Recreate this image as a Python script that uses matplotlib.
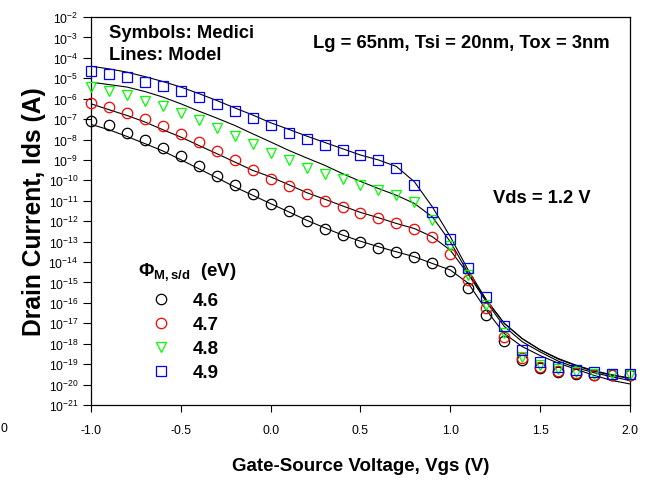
import matplotlib
matplotlib.use("Agg")
import matplotlib.pyplot as plt
import numpy as np
from matplotlib.lines import Line2D
from matplotlib.ticker import LogLocator, LogFormatterSciNotation, FixedLocator, NullLocator

plt.rcParams['font.family'] = ['Liberation Sans', 'DejaVu Sans']
plt.rcParams['mathtext.fontset'] = 'custom'
plt.rcParams['mathtext.rm'] = 'Liberation Sans'
plt.rcParams['mathtext.it'] = 'Liberation Sans:italic'
plt.rcParams['mathtext.bf'] = 'Liberation Sans:bold'

# ---------------- data ----------------
vgs = [-1.0, -0.9, -0.8, -0.7, -0.6, -0.5, -0.4, -0.3, -0.2, -0.1,
       0.0, 0.1, 0.2, 0.3, 0.4, 0.5, 0.6, 0.7, 0.8, 0.9,
       1.0, 1.1, 1.2, 1.3, 1.4, 1.5, 1.6, 1.7, 1.8, 1.9, 2.0]

# Medici symbols, log10(Ids)
medici_46 = [-7.07, -7.31, -7.67, -8.01, -8.40, -8.82, -9.28, -9.77, -10.24, -10.68,
             -11.18, -11.51, -12.00, -12.36, -12.68, -13.04, -13.30, -13.53, -13.77, -14.05,
             -14.42, -15.25, -16.59, -17.89, -18.81, -19.20, -19.36, -19.46, -19.52, -19.55, -19.55]
medici_47 = [-6.22, -6.41, -6.70, -7.00, -7.32, -7.72, -8.14, -8.56, -9.02, -9.47,
             -9.91, -10.30, -10.66, -11.02, -11.32, -11.62, -11.83, -12.11, -12.36, -12.75,
             -13.61, -14.88, -16.23, -17.65, -18.71, -19.15, -19.33, -19.43, -19.52, -19.55, -19.55]
medici_48 = [-5.43, -5.63, -5.84, -6.09, -6.36, -6.69, -7.05, -7.46, -7.85, -8.20,
             -8.64, -9.02, -9.39, -9.70, -9.95, -10.24, -10.45, -10.73, -11.07, -11.92,
             -13.22, -14.64, -16.10, -17.49, -18.67, -19.03, -19.23, -19.36, -19.46, -19.49, -19.52]
medici_49 = [-4.62, -4.78, -4.95, -5.16, -5.39, -5.63, -5.91, -6.26, -6.60, -6.93,
             -7.31, -7.67, -7.96, -8.25, -8.51, -8.76, -9.02, -9.39, -10.22, -11.53,
             -12.89, -14.28, -15.69, -17.11, -18.30, -18.90, -19.16, -19.29, -19.39, -19.46, -19.49]

# Model lines, log10(Ids)
model_46 = [-7.26, -7.52, -7.85, -8.20, -8.56, -8.99, -9.43, -9.87, -10.32, -10.73,
            -11.14, -11.54, -11.95, -12.32, -12.68, -12.98, -13.25, -13.50, -13.74, -14.07,
            -14.39, -15.04, -16.35, -17.50, -18.14, -18.58, -18.95, -19.25, -19.55, -19.80, -19.97]
model_47 = [-6.25, -6.54, -6.82, -7.14, -7.52, -7.88, -8.29, -8.69, -9.10, -9.51,
            -9.83, -10.21, -10.60, -10.92, -11.25, -11.57, -11.83, -12.11, -12.36, -12.76,
            -13.42, -14.60, -15.95, -17.15, -17.90, -18.40, -18.85, -19.17, -19.42, -19.62, -19.80]
model_48 = [-5.19, -5.31, -5.43, -5.65, -5.92, -6.25, -6.61, -6.95, -7.31, -7.72,
            -8.12, -8.53, -8.90, -9.26, -9.67, -10.05, -10.40, -10.73, -11.13, -11.79,
            -13.01, -14.55, -15.85, -17.00, -17.75, -18.30, -18.72, -19.05, -19.32, -19.52, -19.68]
model_49 = [-4.41, -4.54, -4.70, -4.92, -5.16, -5.43, -5.75, -6.09, -6.45, -6.80,
            -7.18, -7.50, -7.83, -8.14, -8.45, -8.76, -9.00, -9.32, -10.07, -11.30,
            -12.76, -14.40, -15.85, -17.00, -17.75, -18.30, -18.75, -19.08, -19.35, -19.55, -19.70]

phi_labels = ['4.6', '4.7', '4.8', '4.9']
colors = ['#000000', '#ff0000', '#00ff00', '#0000ff']
markers = ['o', 'o', 'v', 's']
msizes = [7.5, 7.5, 7.5, 6.8]
x_ticks = [-1.0, -0.5, 0.0, 0.5, 1.0, 1.5, 2.0]

medici = [medici_46, medici_47, medici_48, medici_49]
model = [model_46, model_47, model_48, model_49]

# ---------------- figure ----------------
fig = plt.figure(figsize=(6.49, 4.85), dpi=100)
ax = fig.add_axes([91 / 649, 1 - 406 / 485, (630 - 91) / 649, (406 - 18) / 485])

x = np.array(vgs)
for mdl in model:
    ax.plot(x, 10.0 ** np.array(mdl), color='black', lw=0.8, zorder=2)
for med, c, m, ms in zip(medici, colors, markers, msizes):
    ax.plot(x, 10.0 ** np.array(med), linestyle='none', marker=m, ms=ms,
            mfc='none', mec=c, mew=0.9, zorder=3, clip_on=False)

ax.set_yscale('log')
ax.set_xlim(-1.0, 2.0)
ax.set_ylim(1e-21, 1e-2)
ax.xaxis.set_major_locator(FixedLocator(x_ticks))
ax.set_xticklabels([f'{v:.1f}' for v in x_ticks])
ax.yaxis.set_major_locator(LogLocator(base=10, numticks=30))
ax.yaxis.set_minor_locator(NullLocator())
ax.yaxis.set_major_formatter(LogFormatterSciNotation(labelOnlyBase=False))
ax.tick_params(axis='both', which='major', direction='out', width=0.8,
               labelsize=8.8, top=False, right=False)
ax.tick_params(axis='x', length=5, pad=9)
ax.tick_params(axis='y', length=6, pad=3)
for s in ax.spines.values():
    s.set_linewidth(0.9)

ax.set_xlabel('Gate-Source Voltage, Vgs (V)', fontsize=13.5, fontweight='bold', labelpad=15)
ax.set_ylabel('Drain Current, Ids (A)', fontsize=17.7, fontweight='bold', labelpad=2)

fig.text(109 / 649, 1 - 33 / 485, 'Symbols: Medici', fontsize=13.2, fontweight='bold', va='center')
fig.text(109 / 649, 1 - 55 / 485, 'Lines: Model', fontsize=13.2, fontweight='bold', va='center')
fig.text(313 / 649, 1 - 44 / 485, 'Lg = 65nm, Tsi = 20nm, Tox = 3nm', fontsize=13.2,
         fontweight='bold', va='center')
fig.text(493 / 649, 1 - 199 / 485, 'Vds = 1.2 V', fontsize=13.2, fontweight='bold', va='center')

# legend title
fig.text(138 / 649, 1 - 276 / 485, r'$\mathbf{\Phi_{M,s/d}}$  (eV)', fontsize=13.5,
         fontweight='bold', va='baseline')

handles = [Line2D([], [], linestyle='none', marker=m, ms=ms, mfc='none', mec=c, mew=0.9)
           for c, m, ms in zip(colors, markers, msizes)]
fig.legend(handles, phi_labels, loc='upper left', bbox_to_anchor=(152 / 649, 1 - 293 / 485),
           frameon=False, prop={'weight': 'bold', 'size': 13.5}, handlelength=1.0,
           handletextpad=1.15, labelspacing=0.37, borderpad=0, borderaxespad=0)

# stray fragment at left edge of original image
fig.text(4 / 649, 1 - 429 / 485, '0', fontsize=8.8, ha='center', va='center')

fig.savefig('out.png', dpi=100)
